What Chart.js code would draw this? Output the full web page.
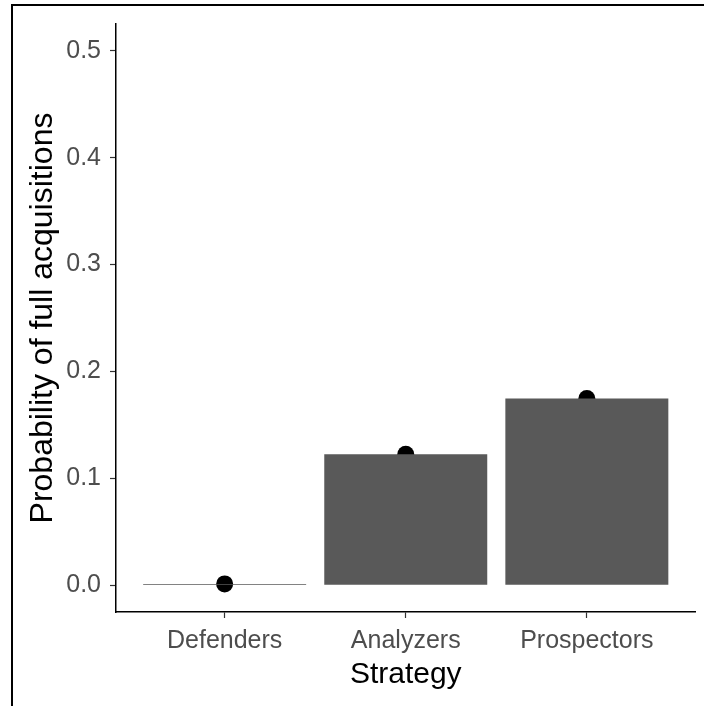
<!DOCTYPE html>
<html>
<head>
<meta charset="utf-8">
<script src="https://cdn.jsdelivr.net/npm/chart.js@4.4.1/dist/chart.umd.min.js"></script>
<style>
  html, body { margin: 0; padding: 0; background: #fff; }
  #wrap { position: relative; width: 704px; height: 706px; overflow: hidden; }
  #wrap canvas { position: absolute; left: 0; top: 0; }
  #frame { position: absolute; left: 11px; top: 4px; right: -10px; bottom: -10px;
           border-top: 2px solid #000; border-left: 2px solid #000; pointer-events: none; }
</style>
</head>
<body>
<div id="wrap">
  <canvas id="chart" width="704" height="706"></canvas>
  <div id="frame"></div>
</div>
<script>
// Predicted probability of a full acquisition for each strategic type
const strategies = ['Defenders', 'Analyzers', 'Prospectors'];
const probabilities = [0.0013, 0.1226, 0.1747];
const yTicks = [0, 0.1, 0.2, 0.3, 0.4, 0.5];
const xTitle = 'Strategy';
const yTitle = 'Probability of full acquisitions';

const points = strategies.map((s, i) => ({ x: i + 1, y: probabilities[i] }));

const FONT = '"Liberation Sans", Arial, sans-serif';
const TICK_GREY = '#4d4d4d';

new Chart(document.getElementById('chart'), {
  type: 'bar',
  data: {
    datasets: [
      {
        type: 'bar',
        data: points,
        backgroundColor: '#595959',
        borderWidth: 0,
        barPercentage: 0.9,
        categoryPercentage: 1.0,
        order: 0
      },
      {
        type: 'scatter',
        data: points,
        pointRadius: 8.5,
        pointBackgroundColor: '#000',
        pointBorderColor: '#000',
        pointBorderWidth: 0,
        showLine: false,
        order: 1
      }
    ]
  },
  options: {
    responsive: false,
    animation: false,
    layout: { padding: { top: 20, right: 6, bottom: 0, left: 0 } },
    plugins: { legend: { display: false }, tooltip: { enabled: false } },
    scales: {
      x: {
        type: 'linear',
        min: 0.4,
        max: 3.6,
        offset: false,
        afterBuildTicks: (axis) => { axis.ticks = strategies.map((s, i) => ({ value: i + 1 })); },
        afterFit: (scale) => { scale.height = 94; },
        border: { display: true, color: '#000', width: 1.5 },
        grid: { offset: false, drawOnChartArea: false, drawTicks: true, tickLength: 6, tickColor: '#333', tickWidth: 1.2 },
        ticks: {
          autoSkip: false,
          maxRotation: 0,
          padding: 8,
          color: TICK_GREY,
          font: { family: FONT, size: 25 },
          callback: (v) => strategies[Math.round(v) - 1]
        },
        title: {
          display: true,
          text: xTitle,
          color: '#000',
          font: { family: FONT, size: 30 },
          padding: { top: 0, bottom: 13 }
        }
      },
      y: {
        type: 'linear',
        min: -0.025,
        max: 0.525,
        afterBuildTicks: (axis) => { axis.ticks = yTicks.map(v => ({ value: v })); },
        afterFit: (scale) => { scale.width = 116; },
        border: { display: true, color: '#000', width: 1.5 },
        grid: { drawOnChartArea: false, drawTicks: true, tickLength: 6, tickColor: '#333', tickWidth: 1.2 },
        ticks: {
          padding: 9,
          color: TICK_GREY,
          font: { family: FONT, size: 25 },
          callback: (v) => v.toFixed(1)
        },
        title: {
          display: true,
          text: yTitle,
          color: '#000',
          font: { family: FONT, size: 32 },
          padding: { top: 24, bottom: 0 }
        }
      }
    }
  }
});
</script>
</body>
</html>
